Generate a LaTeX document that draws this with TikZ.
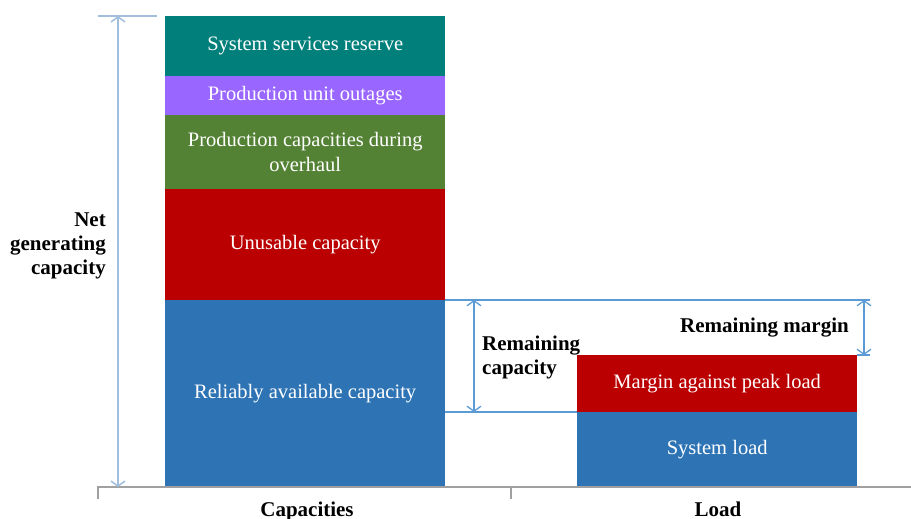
\documentclass[tikz,border=0pt]{standalone}
\usepackage{fontspec}
\setmainfont{Liberation Serif}
\usetikzlibrary{arrows.meta}
\definecolor{cteal}{HTML}{007F7B}
\definecolor{cpurple}{HTML}{9966FF}
\definecolor{cgreen}{HTML}{548235}
\definecolor{cred}{HTML}{BA0000}
\definecolor{cblue}{HTML}{2E74B5}
\definecolor{cline}{HTML}{5B9BD5}
\definecolor{cline2}{HTML}{A2BEDD}
\definecolor{caxis}{HTML}{A0A0A0}
\begin{document}
\begin{tikzpicture}[x=1pt,y=-1pt,
 bar/.style={draw=none, anchor=north west, inner sep=0pt, text=white, align=center,
   minimum width=280pt, font=\fontsize{20.5}{25}\selectfont},
 lbl/.style={inner sep=0pt, font=\fontsize{21}{24}\selectfont\bfseries, text=black},
 dim/.style={draw=cline, line width=1.3pt},
 dimarrow/.style={dim, {Straight Barb[length=5pt,width=14pt]}-{Straight Barb[length=5pt,width=14pt]}},
 axisline/.style={draw=caxis, line width=2pt}]
\useasboundingbox (0,0) rectangle (911,519);
% left stacked bar
\node[bar, fill=cteal, minimum height=60pt] (ssr) at (165,16) {System services reserve};
\node[bar, fill=cpurple, minimum height=39pt] (puo) at (165,76) {Production unit outages};
\node[bar, fill=cgreen, minimum height=74pt] (pco) at (165,115) {Production capacities during\\overhaul};
\node[bar, fill=cred, minimum height=111pt] (uc) at (165,189) {Unusable capacity};
\node[bar, fill=cblue, minimum height=187pt] (rac) at (165,300) {Reliably available capacity};
% right stacked bar
\node[bar, fill=cred, minimum height=57pt] (mpl) at (577,355) {Margin against peak load};
\node[bar, fill=cblue, minimum height=75pt] (sl) at (577,412) {System load};
% axis
\coordinate (axL) at (98,487);
\coordinate (axLt) at (98,499);
\coordinate (axR) at (911,487);
\coordinate (axM) at (511,487);
\coordinate (axMt) at (511,499);
\draw[axisline] (axLt) -- (axL) -- (axR);
\draw[axisline] (axM) -- (axMt);
% net generating capacity dimension
\coordinate (ntop) at (118,16);
\coordinate (nbot) at (118,487);
\coordinate (nbarL) at (98,16);
\coordinate (nbarR) at (157,16);
\draw[dimarrow, draw=cline2, line width=1.5pt] (ntop) -- (nbot);
\draw[draw=cline2, line width=2.5pt] (nbarL) -- (nbarR);
% remaining capacity / margin lines
\coordinate (topR) at (870,300);
\coordinate (rcb) at (445,412);
\coordinate (rcA) at (474,300);
\coordinate (rcB) at (474,412);
\coordinate (rmA) at (864,300);
\coordinate (rmB) at (864,355);
\coordinate (rmL) at (857,355);
\coordinate (rmR) at (870,355);
\draw[dim] (rac.north east) -- (topR);
\draw[dim] (rcb) -- (sl.north west);
\draw[dimarrow] (rcA) -- (rcB);
\draw[dimarrow] (rmA) -- (rmB);
\draw[dim] (rmL) -- (rmR);
% labels
\node[lbl, anchor=east, align=right] (ngc) at (106,246) {Net\\generating\\capacity};
\node[lbl, anchor=west, align=left] (rc) at (482,357) {Remaining\\capacity};
\node[lbl, anchor=east] (rm) at (849,328) {Remaining margin};
\node[lbl, anchor=base] (cap) at (307,516) {Capacities};
\node[lbl, anchor=base] (load) at (718,516) {Load};
\end{tikzpicture}
\end{document}
